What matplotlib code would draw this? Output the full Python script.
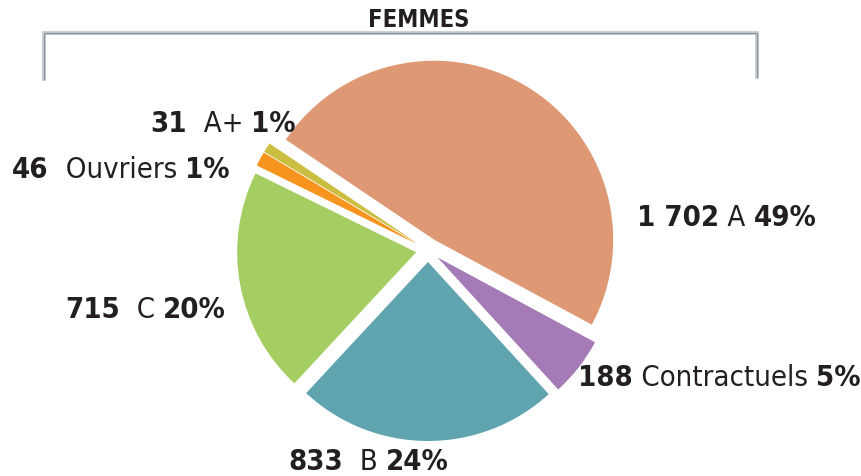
import matplotlib
matplotlib.use('Agg')
import matplotlib.pyplot as plt
from matplotlib import font_manager as fm

# Effectifs femmes par catégorie
categories = ["A", "Contractuels", "B", "C", "Ouvriers", "A+"]
effectifs = [1702, 188, 833, 715, 46, 31]
count_labels = ["1 702", "188", "833", "715", "46", "31"]
pct_labels = ["49%", "5%", "24%", "20%", "1%", "1%"]
colors = ["#DE9974", "#A47BB6", "#5FA4AE", "#A4CE62", "#F7941E", "#CBBE40"]

# pick a condensed face if one is around
names = sorted({f.name for f in fm.fontManager.ttflist})
cond = [f for f in fm.fontManager.ttflist
        if f.name.startswith('DejaVu Sans') and 'ondensed' in (f.fname + str(f.stretch))]
family = 'DejaVu Sans'
stretch = 'normal'
for cand in ['Liberation Sans Narrow', 'DejaVu Sans Condensed']:
    if cand in names:
        family = cand
        break
else:
    if cond:
        stretch = 'condensed'
plt.rcParams['font.family'] = [family, 'DejaVu Sans']
plt.rcParams['font.stretch'] = stretch

W, H = 861, 477
fig = plt.figure(figsize=(W / 100, H / 100), dpi=100)
ax = fig.add_axes([0, 0, 1, 1])

ax.pie(effectifs, colors=colors, startangle=146, counterclock=False,
       explode=[12] * len(effectifs), center=(428, H - 251), radius=179,
       wedgeprops=dict(linewidth=0))
ax.set_xlim(0, W)
ax.set_ylim(0, H)
ax.set_aspect('equal')
ax.axis('off')

# title + bracket
ax.text(419, H - 20, "FEMMES", ha='center', va='center', fontsize=17,
        fontweight='bold', color='#231F20')
bx = [44, 44, 757, 757]
by = [H - 80, H - 34, H - 34, H - 78]
ax.plot(bx, by, color='#CDD2D6', lw=3.0, solid_joinstyle='miter')
ax.plot(bx, by, color='#8C959D', lw=1.0, solid_joinstyle='miter')

# label anchors (left, vertical centre) in pixel coords
label_pos = {
    "A": (637, 218),
    "Contractuels": (578, 378),
    "B": (288, 462),
    "C": (65, 310),
    "Ouvriers": (12, 170),
    "A+": (150, 124),
}
gaps = {"A": " ", "Contractuels": " ", "B": "  ", "C": "  ", "Ouvriers": "  ", "A+": "  "}

fs = 21
txt_color = '#231F20'
for cat, cnt, pct in zip(categories, count_labels, pct_labels):
    x, y = label_pos[cat]
    t1 = ax.text(x, H - y, cnt, ha='left', va='center', fontsize=fs,
                 fontweight='bold', color=txt_color)
    t2 = ax.annotate(gaps[cat] + cat + " ", xy=(1, 0), xycoords=t1,
                     va='bottom', ha='left', fontsize=fs, color=txt_color)
    ax.annotate(pct, xy=(1, 0), xycoords=t2, va='bottom', ha='left',
                fontsize=fs, fontweight='bold', color=txt_color)

fig.savefig("out.png", dpi=100)
